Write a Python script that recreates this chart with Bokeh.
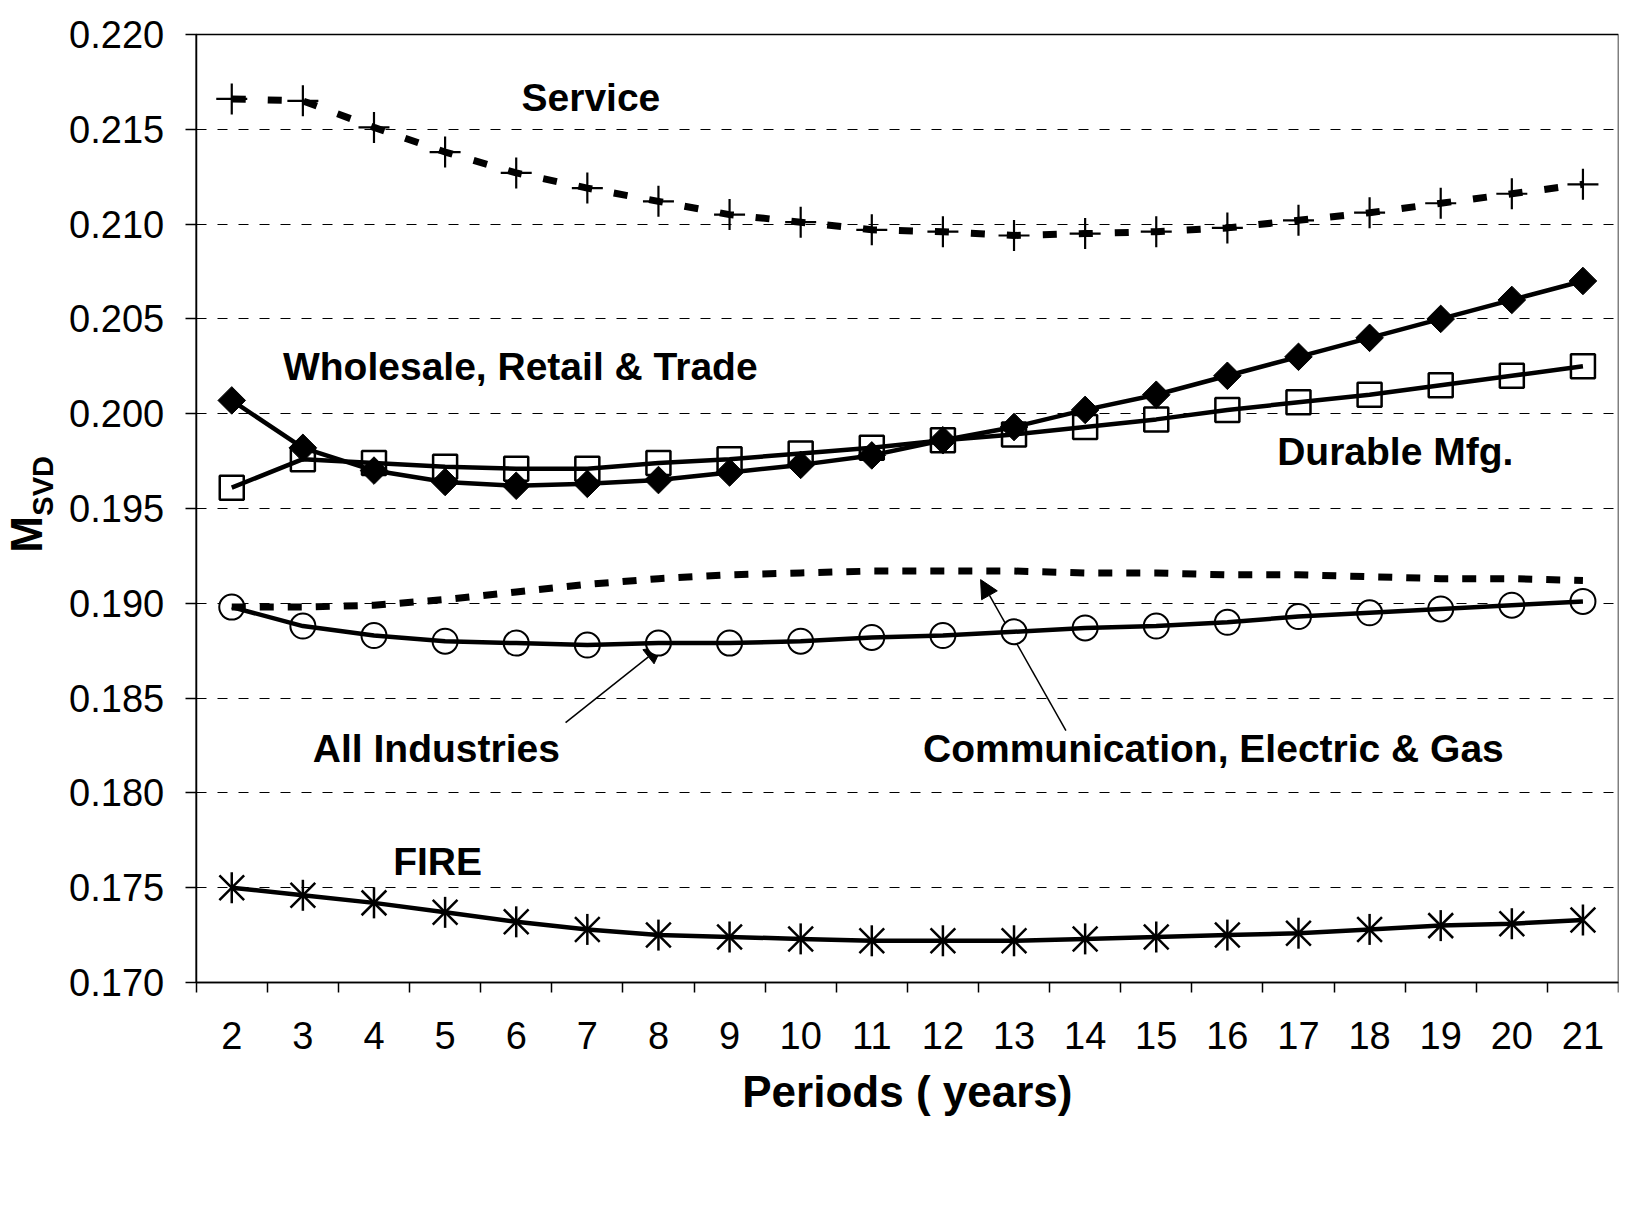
import numpy as np
from bokeh.plotting import figure
from bokeh.models import FixedTicker, PrintfTickFormatter, Label, Arrow, NormalHead, BoxAnnotation
from bokeh.embed import file_html
from bokeh.resources import INLINE

periods = list(range(2, 22))

service = [0.2166, 0.2165, 0.2151, 0.2138, 0.2127, 0.2119, 0.2112, 0.2105, 0.2101, 0.2097,
           0.2096, 0.2094, 0.2095, 0.2096, 0.2098, 0.2102, 0.2106, 0.2111, 0.2116, 0.2121]
wholesale = [0.2007, 0.1982, 0.1970, 0.1964, 0.1962, 0.1963, 0.1965, 0.1969, 0.1973, 0.1978,
             0.1986, 0.1993, 0.2002, 0.2010, 0.2020, 0.2030, 0.2040, 0.2050, 0.2060, 0.2070]
durable = [0.1961, 0.1976, 0.1974, 0.1972, 0.1971, 0.1971, 0.1974, 0.1976, 0.1979, 0.1982,
           0.1986, 0.1989, 0.1993, 0.1997, 0.2002, 0.2006, 0.2010, 0.2015, 0.2020, 0.2025]
communication = [0.1898, 0.1898, 0.1899, 0.1902, 0.1906, 0.1910, 0.1913, 0.1915, 0.1916, 0.1917,
                 0.1917, 0.1917, 0.1916, 0.1916, 0.1915, 0.1915, 0.1914, 0.1913, 0.1913, 0.1912]
all_industries = [0.1898, 0.1888, 0.1883, 0.1880, 0.1879, 0.1878, 0.1879, 0.1879, 0.1880, 0.1882,
                  0.1883, 0.1885, 0.1887, 0.1888, 0.1890, 0.1893, 0.1895, 0.1897, 0.1899, 0.1901]
fire = [0.1750, 0.1746, 0.1742, 0.1737, 0.1732, 0.1728, 0.1725, 0.1724, 0.1723, 0.1722,
        0.1722, 0.1722, 0.1723, 0.1724, 0.1725, 0.1726, 0.1728, 0.1730, 0.1731, 0.1733]

y_ticks = [0.170, 0.175, 0.180, 0.185, 0.190, 0.195, 0.200, 0.205, 0.210, 0.215, 0.220]

FONT = "Liberation Sans"
X0, X1 = 1.5, 21.5          # plot-area bounds in x (category edges)
Y0, Y1 = 0.170, 0.220

# page layout (pixels): plot area from x=195.7..1618, y=34..982
PA_L, PA_R, PA_T, PA_B = 195.7, 1618.0, 34.0, 982.0
FR_L, FR_T, FR_B = 5.0, 2.0, 1140.0
sx = (PA_R - PA_L) / (X1 - X0)
sy = (PA_B - PA_T) / (Y1 - Y0)
x_start = X0 - (PA_L - FR_L) / sx
y_end = Y1 + (PA_T - FR_T) / sy
y_start = Y0 - (FR_B - PA_B) / sy

p = figure(frame_width=int(PA_R - FR_L), frame_height=int(FR_B - FR_T),
           x_range=(x_start, X1), y_range=(y_start, y_end),
           output_backend="svg", toolbar_location=None,
           min_border_left=int(FR_L), min_border_right=5, min_border_top=int(FR_T),
           min_border_bottom=70)

p.outline_line_color = None
p.background_fill_color = "white"
p.border_fill_color = "white"

# plot-area box
p.add_layout(BoxAnnotation(left=X0, right=X1, bottom=Y0, top=Y1, fill_alpha=0,
                           line_color="black", line_width=1.5, line_alpha=1.0))

p.xgrid.visible = False
yg = p.ygrid[0]
yg.ticker = FixedTicker(ticks=y_ticks)
yg.grid_line_color = "black"
yg.grid_line_dash = "10 11"
yg.grid_line_width = 1
if "cross_bounds" in yg.properties():
    yg.cross_bounds = (X0, X1)
else:
    yg.visible = False
    inner = y_ticks[1:-1]
    p.segment(x0=[X0] * len(inner), x1=[X1] * len(inner), y0=inner, y1=inner,
              line_color="black", line_dash="10 11", line_width=1)

# x axis at the bottom edge of the plot area
xa = p.xaxis[0]
xa.fixed_location = Y0
xa.bounds = (X0, X1)
xa.ticker = FixedTicker(ticks=periods, minor_ticks=[x + 0.5 for x in range(1, 22)])
xa.major_tick_line_color = None
xa.major_tick_out = 10
xa.major_tick_in = 0
xa.minor_tick_out = 10
xa.minor_tick_in = 0
xa.minor_tick_line_color = "black"
xa.minor_tick_line_width = 1.5
xa.axis_line_width = 1.5
xa.major_label_text_font = FONT
xa.major_label_text_font_size = "38px"
xa.major_label_text_color = "black"
xa.major_label_standoff = 29

# y axis at the left edge of the plot area
ya = p.yaxis[0]
ya.fixed_location = X0
ya.bounds = (Y0, Y1)
ya.ticker = FixedTicker(ticks=y_ticks)
ya.formatter = PrintfTickFormatter(format="%.3f")
ya.minor_tick_line_color = None
ya.major_tick_out = 11
ya.major_tick_in = 0
ya.major_tick_line_width = 1.5
ya.axis_line_width = 1.5
ya.major_label_text_font = FONT
ya.major_label_text_font_size = "38px"
ya.major_label_text_color = "black"
ya.major_label_standoff = 21

# arrows (beneath the series)
p.add_layout(Arrow(end=NormalHead(size=18, fill_color="black", line_color="black"),
                   x_start=6.694, y_start=0.18371, x_end=8.058, y_end=0.18777,
                   line_color="black", line_width=1.5, level="underlay"))
p.add_layout(Arrow(end=NormalHead(size=18, fill_color="black", line_color="black"),
                   x_start=13.73, y_start=0.18328, x_end=12.53, y_end=0.19125,
                   line_color="black", line_width=1.5, level="underlay"))

# series: open markers first, lines over them
p.scatter(periods, all_industries, marker="circle", size=25, line_color="black",
          fill_color="white", line_width=2)
p.scatter(periods, durable, marker="square", size=24, line_color="black",
          fill_color="white", line_width=2.5)

p.line(periods, service, line_color="black", line_width=7, line_dash="14 22")
p.line(periods, durable, line_color="black", line_width=4.5)
p.line(periods, wholesale, line_color="black", line_width=4.5)
p.line(periods, communication, line_color="black", line_width=7, line_dash="14 14")
p.line(periods, all_industries, line_color="black", line_width=4.5)
p.line(periods, fire, line_color="black", line_width=4.5)

p.scatter(periods, service, marker="cross", size=31, line_color="black", line_width=2.2)
p.scatter(periods, wholesale, marker="square", angle=np.pi / 4, size=19.5,
          line_color="black", fill_color="black", line_width=1)
# FIRE asterisk: diagonal cross plus vertical bar
p.scatter(periods, fire, marker="x", size=35, line_color="black", line_width=2.5)
p.scatter(periods, fire, marker="dash", angle=np.pi / 2, size=31, line_color="black",
          line_width=2.5)

# series labels
def lab(text, x, y, align="left", size="39px", angle=0.0):
    p.add_layout(Label(x=x, y=y, text=text, text_font=FONT, text_font_size=size,
                       text_font_style="bold", text_color="black", angle=angle,
                       text_align=align, text_baseline="middle"))

lab("Service", 7.05, 0.2167, "center")
lab("Wholesale, Retail & Trade", 2.72, 0.20247)
lab("Durable Mfg.", 16.70, 0.19802)
lab("All Industries", 3.14, 0.18236)
lab("Communication, Electric & Gas", 11.72, 0.18236)
lab("FIRE", 4.27, 0.17637)

# axis titles
lab("Periods ( years)", (X0 + X1) / 2, 0.16425, "center", "44px")
lab("M", -0.880, 0.19267, "left", "44px", np.pi / 2)
lab("SVD", -0.655, 0.19462, "left", "29px", np.pi / 2)

open("out.html", "w").write(file_html(p, INLINE))
